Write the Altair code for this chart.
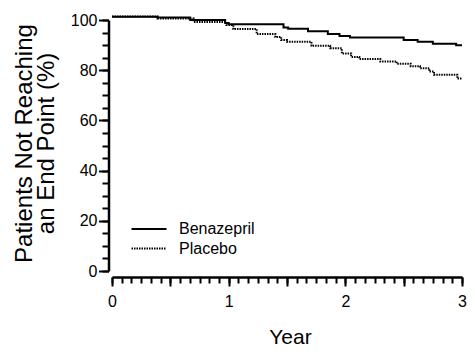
import altair as alt
import pandas as pd

# ---- data (Kaplan-Meier style curves) ----
series_names = ["Benazepril", "Placebo"]

benazepril_year = [0, 0.39, 0.67, 0.97, 1.00, 1.47, 1.51, 1.68, 1.85, 1.95, 2.04,
                   2.50, 2.62, 2.75, 2.95, 3.0]
benazepril_pct = [101.3, 101.0, 100.0, 98.8, 98.3, 97.0, 96.5, 95.5, 94.4, 93.6, 93.0,
                  92.0, 91.3, 90.5, 89.9, 89.9]

placebo_year = [0, 0.39, 0.70, 0.98, 1.04, 1.24, 1.40, 1.45, 1.50, 1.71, 1.87, 1.97,
                2.05, 2.12, 2.30, 2.44, 2.56, 2.64, 2.72, 2.76, 2.96, 3.0]
placebo_pct = [101.4, 100.6, 99.2, 98.0, 96.4, 94.4, 93.2, 92.0, 91.3, 89.7, 88.7, 86.7,
               85.3, 84.5, 83.5, 82.6, 81.6, 80.8, 79.5, 78.2, 76.7, 76.7]

x_major_ticks = [0, 0.5, 1, 1.5, 2, 2.5, 3]
x_minor_ticks = [i / 12 for i in range(37)]
y_major_ticks = [0, 20, 40, 60, 80, 100]
y_minor_ticks = list(range(0, 101, 5))

rows = []
for y, p in zip(benazepril_year, benazepril_pct):
    rows.append({"year": y, "pct": p, "series": series_names[0]})
for y, p in zip(placebo_year, placebo_pct):
    rows.append({"year": y, "pct": p, "series": series_names[1]})
df = pd.DataFrame(rows)

FONT = "Liberation Sans"
xscale = alt.Scale(domain=[0, 3], nice=False, zero=False)
yscale = alt.Scale(domain=[0, 100], nice=False)

base = alt.Chart(df)

lines = base.mark_line(interpolate="step-after", stroke="black", strokeWidth=2, clip=False).encode(
    x=alt.X("year:Q", scale=xscale, title="Year",
            axis=alt.Axis(orient="bottom", values=x_major_ticks, tickSize=9, tickWidth=2,
                          domainWidth=2.5, offset=6, grid=False, labelFlush=False,
                          labelExpr="datum.value % 1 == 0 ? format(datum.value, 'd') : ''",
                          labelFontSize=16, labelPadding=7,
                          titleFontSize=21, titleBaseline="alphabetic", titleY=66, titleX=178)),
    y=alt.Y("pct:Q", scale=yscale, title=["Patients Not Reaching", "an End Point (%)"],
            axis=alt.Axis(orient="left", values=y_major_ticks, tickSize=10, tickWidth=2,
                          domainWidth=2.5, offset=3.5, grid=False,
                          labelFontSize=16, labelPadding=1.5,
                          titleFontSize=24, titleLineHeight=22, titleX=-72, titleY=123)),
    strokeDash=alt.StrokeDash("series:N",
                              scale=alt.Scale(domain=series_names, range=[[1, 0], [1.5, 1]]),
                              legend=alt.Legend(orient="none", legendX=27, legendY=199, title=None,
                                                symbolType="M-2,0H2", symbolSize=306,
                                                symbolStrokeWidth=2, symbolStrokeColor="black",
                                                symbolFillColor="transparent",
                                                labelFont=FONT, labelFontSize=16, labelColor="black",
                                                labelOffset=20, rowPadding=1.5, padding=0)),
)

minor = base.mark_line(opacity=0).encode(
    x=alt.X("year:Q", scale=xscale, title=None,
            axis=alt.Axis(orient="bottom", values=x_minor_ticks, tickSize=6, tickWidth=2,
                          labels=False, domain=False, offset=6, grid=False)),
    y=alt.Y("pct:Q", scale=yscale, title=None,
            axis=alt.Axis(orient="left", values=y_minor_ticks, tickSize=6.5, tickWidth=2,
                          labels=False, domain=False, offset=3.5, grid=False)),
    detail="series:N",
)

chart = (
    alt.layer(lines, minor)
    .resolve_axis(x="independent", y="independent")
    .properties(width=350, height=251,
                autosize=alt.AutoSizeParams(type="none"),
                padding={"left": 104, "top": 12, "right": 5, "bottom": 77})
    .configure_view(stroke=None)
    .configure_axis(labelFont=FONT, titleFont=FONT, labelColor="black", titleColor="black",
                    tickColor="black", domainColor="black", titleFontWeight="normal")
)

chart.save("out.html", embed_options={"renderer": "svg", "actions": False})
